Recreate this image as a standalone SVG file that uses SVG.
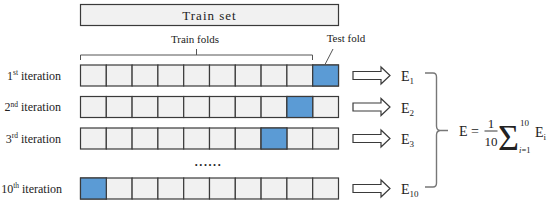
<svg xmlns="http://www.w3.org/2000/svg" width="550" height="205" viewBox="0 0 550 205">
<defs>
<style>
.cell{fill:#f1f1f1;stroke:#3a3a3a;stroke-width:1.2}
.test{fill:#5b9bd5;stroke:#3a3a3a;stroke-width:1.2}
text{font-family:"Liberation Serif","DejaVu Serif","Times New Roman",serif;fill:#222}
.lbl{font-size:12px}
.sup{font-size:7.5px}
.e{font-size:14px}
.sub{font-size:9px}
.arrow{fill:#ffffff;stroke:#3a3a3a;stroke-width:1.2}
.line{fill:none;stroke:#555;stroke-width:1}
.brace{fill:none;stroke:#777;stroke-width:1.4}
</style>
<g id="row">
<rect class="cell" x="80.5" y="0" width="25.8" height="21"/>
<rect class="cell" x="106.3" y="0" width="25.8" height="21"/>
<rect class="cell" x="132.1" y="0" width="25.8" height="21"/>
<rect class="cell" x="157.9" y="0" width="25.8" height="21"/>
<rect class="cell" x="183.7" y="0" width="25.8" height="21"/>
<rect class="cell" x="209.5" y="0" width="25.8" height="21"/>
<rect class="cell" x="235.3" y="0" width="25.8" height="21"/>
<rect class="cell" x="261.1" y="0" width="25.8" height="21"/>
<rect class="cell" x="286.9" y="0" width="25.8" height="21"/>
<rect class="cell" x="312.7" y="0" width="25.8" height="21"/>
</g>
<path id="arr" class="arrow" d="M353,-4 H381 V-8.5 L390,0 L381,8.5 V4 H353 Z"/>
</defs>

<g id="trainset">
<rect class="cell" x="80.5" y="4.5" width="258" height="21"/>
<text x="209.5" y="20" font-size="13" letter-spacing="1" text-anchor="middle">Train set</text>
</g>

<g id="trainfolds">
<text x="195" y="43" font-size="11" text-anchor="middle">Train folds</text>
</g>
<g id="testfold">
<text x="346" y="42" font-size="11" text-anchor="middle">Test fold</text>
</g>

<g id="iter1">
<use href="#row" y="65"/>
<rect class="test" x="312.7" y="65" width="25.8" height="21"/>
<text class="lbl" x="61" y="79.5" text-anchor="end">1<tspan class="sup" dy="-4.5">st</tspan><tspan dy="4.5">  iteration</tspan></text>
</g>
<g id="iter2">
<use href="#row" y="96.5"/>
<rect class="test" x="286.9" y="96.5" width="25.8" height="21"/>
<text class="lbl" x="61" y="111" text-anchor="end">2<tspan class="sup" dy="-4.5">nd</tspan><tspan dy="4.5">  iteration</tspan></text>
</g>
<g id="iter3">
<use href="#row" y="128"/>
<rect class="test" x="261.1" y="128" width="25.8" height="21"/>
<text class="lbl" x="61" y="142.5" text-anchor="end">3<tspan class="sup" dy="-4.5">rd</tspan><tspan dy="4.5">  iteration</tspan></text>
</g>
<g id="dots">
<text x="208.5" y="166" font-size="12" font-weight="bold" text-anchor="middle" letter-spacing="1.6">......</text>
</g>
<g id="iter10">
<use href="#row" y="178"/>
<rect class="test" x="80.5" y="178" width="25.8" height="21"/>
<text class="lbl" x="62" y="192.5" text-anchor="end">10<tspan class="sup" dy="-4.5">th</tspan><tspan dy="4.5">  iteration</tspan></text>
</g>

<g id="connectors">
<path class="line" d="M80.5,60 V55 H312.5 V60 M196.5,55 V49"/>
<path class="line" d="M333,49 L325,64.5"/>
<use href="#arr" y="75.5"/>
<use href="#arr" y="107"/>
<use href="#arr" y="138.5"/>
<use href="#arr" y="188.5"/>
<path class="brace" d="M425,73 H433 Q436.5,73 436.5,77 V126 Q436.5,130 440,130.5 L448,130.5 M440,130.5 Q436.5,131 436.5,135 V183 Q436.5,187 433,187 H425"/>
</g>

<g id="e1"><text class="e" x="401" y="81">E<tspan class="sub" dy="3">1</tspan></text></g>
<g id="e2"><text class="e" x="401" y="112.5">E<tspan class="sub" dy="3">2</tspan></text></g>
<g id="e3"><text class="e" x="401" y="144">E<tspan class="sub" dy="3">3</tspan></text></g>
<g id="e10"><text class="e" x="401" y="194">E<tspan class="sub" dy="3">10</tspan></text></g>

<g id="formula">
<text class="e" x="459" y="136">E =</text>
<text x="491" y="127.5" font-size="13" text-anchor="middle">1</text>
<line x1="484.5" y1="131" x2="497.5" y2="131" stroke="#222" stroke-width="0.9"/>
<text x="491" y="145.5" font-size="13" text-anchor="middle">10</text>
<text x="498" y="150" font-size="36">Σ</text>
<text x="520" y="126" font-size="9">10</text>
<text x="519" y="153" font-size="8.5"><tspan font-style="italic">i</tspan>=1</text>
<text class="e" x="535" y="137">E<tspan class="sub" dy="3">i</tspan></text>
</g>
</svg>
